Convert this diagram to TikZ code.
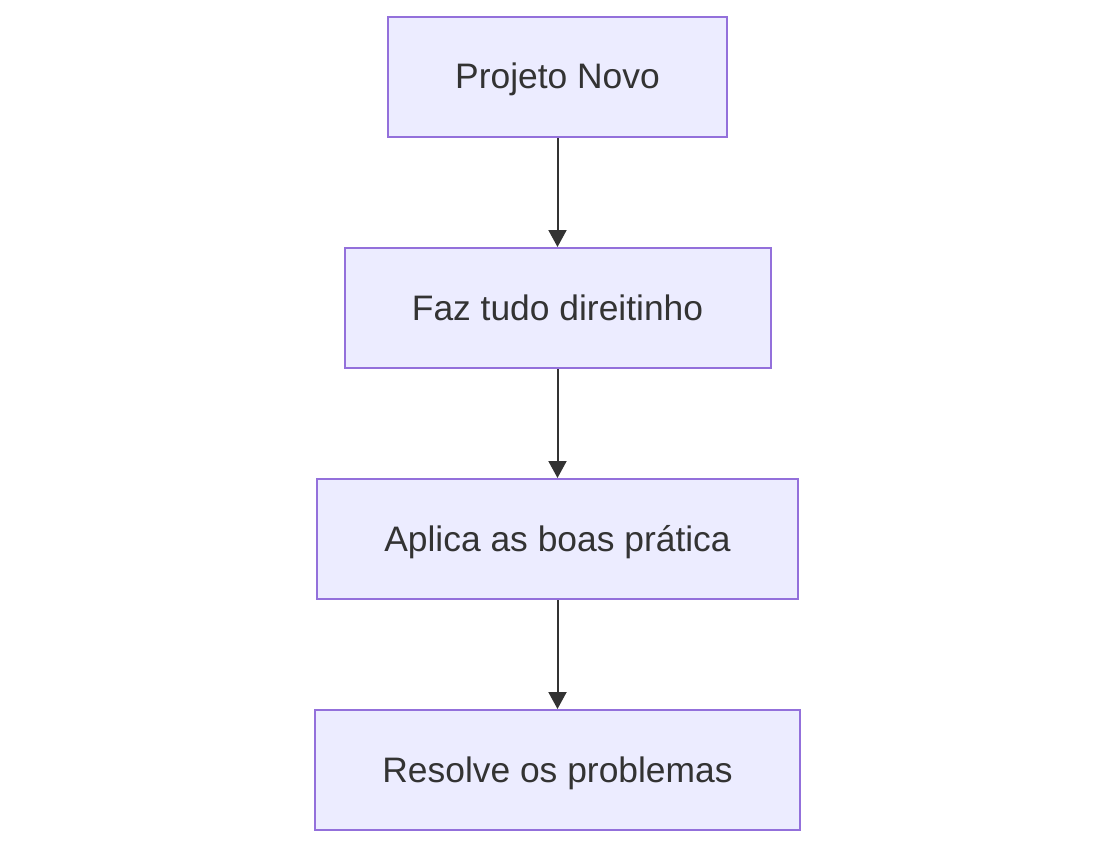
\documentclass[tikz,border=0pt]{standalone}
\usepackage{fontspec}
\setmainfont{Liberation Sans}
\usetikzlibrary{arrows.meta}
\definecolor{boxfill}{HTML}{ECECFF}
\definecolor{boxline}{HTML}{9370DB}
\definecolor{ink}{HTML}{333333}
\begin{document}
\begin{tikzpicture}[x=1pt,y=-1pt,
  flowbox/.style={draw=boxline,fill=boxfill,line width=2pt,text=ink,
    minimum height=120pt,inner sep=0pt,text height=26pt,text depth=2pt,
    font=\fontsize{35.4}{42}\selectfont},
  flowarrow/.style={draw=ink,line width=2pt,-{Triangle[length=17pt,width=18pt]}}]
\useasboundingbox (0,0) rectangle (1116,848);
\node[flowbox,minimum width=339pt] (a) at (557.5,77) {Projeto Novo};
\node[flowbox,minimum width=426pt] (b) at (557.5,308) {Faz tudo direitinho};
\node[flowbox,minimum width=481pt] (c) at (557.5,539) {Aplica as boas prática};
\node[flowbox,minimum width=485pt] (d) at (557.5,770) {Resolve os problemas};
\draw[flowarrow] (a) -- (b);
\draw[flowarrow] (b) -- (c);
\draw[flowarrow] (c) -- (d);
\end{tikzpicture}
\end{document}
